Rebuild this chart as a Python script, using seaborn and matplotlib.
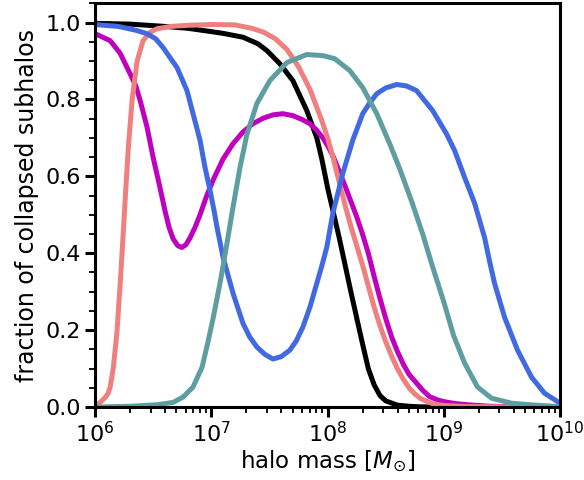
import numpy as np
import pandas as pd
import matplotlib
matplotlib.use("Agg")
import matplotlib.pyplot as plt
import seaborn as sns
from matplotlib.ticker import AutoMinorLocator, LogLocator

# ---- data (log10 halo mass, fraction) ----
black_logm = [6.0, 6.3, 6.6, 6.8, 6.988, 7.1, 7.271, 7.4, 7.478, 7.589, 7.701, 7.821, 7.907,
              7.95, 8.0, 8.05, 8.1, 8.15, 8.2, 8.25, 8.3, 8.35, 8.4, 8.45, 8.5, 8.6, 8.7,
              8.8, 9.0, 10.0]
black_frac = [0.998, 0.996, 0.99, 0.985, 0.977, 0.972, 0.962, 0.945, 0.927, 0.893, 0.849,
              0.771, 0.70, 0.645, 0.57, 0.505, 0.44, 0.37, 0.30, 0.232, 0.165, 0.10, 0.058,
              0.03, 0.016, 0.005, 0.002, 0.0005, 0.0, 0.0]

salmon_logm = [6.0, 6.043, 6.086, 6.11, 6.129, 6.155, 6.186, 6.215, 6.241, 6.258, 6.284,
               6.318, 6.361, 6.412, 6.473, 6.533, 6.65, 6.8, 7.0, 7.2, 7.35, 7.45, 7.55,
               7.65, 7.75, 7.85, 7.95, 8.0, 8.05, 8.1, 8.15, 8.2, 8.25, 8.3, 8.35, 8.4,
               8.45, 8.5, 8.55, 8.6, 8.65, 8.7, 8.75, 8.8, 8.9, 9.0, 9.2, 10.0]
salmon_frac = [0.004, 0.012, 0.025, 0.035, 0.052, 0.10, 0.19, 0.32, 0.45, 0.54, 0.67, 0.80,
               0.90, 0.953, 0.975, 0.984, 0.99, 0.993, 0.995, 0.994, 0.985, 0.975, 0.958,
               0.93, 0.885, 0.825, 0.745, 0.70, 0.645, 0.585, 0.525, 0.47, 0.42, 0.37,
               0.315, 0.26, 0.212, 0.17, 0.133, 0.10, 0.073, 0.05, 0.034, 0.022, 0.009,
               0.004, 0.001, 0.0]

magenta_logm = [6.0, 6.129, 6.215, 6.30, 6.35, 6.387, 6.447, 6.498, 6.558, 6.601, 6.635,
                6.67, 6.71, 6.745, 6.78, 6.816, 6.86, 6.902, 6.96, 7.014, 7.1, 7.186, 7.27,
                7.357, 7.45, 7.53, 7.615, 7.7, 7.78, 7.847, 7.9, 7.959, 8.0, 8.05, 8.1,
                8.15, 8.2, 8.25, 8.3, 8.35, 8.4, 8.45, 8.5, 8.55, 8.6, 8.65, 8.7, 8.766,
                8.82, 8.878, 8.95, 9.02, 9.1, 9.2, 9.3, 9.4, 9.6, 10.0]
magenta_frac = [0.971, 0.953, 0.92, 0.867, 0.835, 0.797, 0.727, 0.65, 0.57, 0.51, 0.468,
                0.438, 0.42, 0.415, 0.422, 0.44, 0.468, 0.50, 0.55, 0.59, 0.645, 0.685,
                0.715, 0.737, 0.752, 0.76, 0.763, 0.758, 0.748, 0.737, 0.722, 0.70, 0.68,
                0.65, 0.613, 0.575, 0.535, 0.495, 0.45, 0.40, 0.34, 0.283, 0.23, 0.183,
                0.145, 0.112, 0.085, 0.062, 0.043, 0.027, 0.018, 0.013, 0.009, 0.006,
                0.004, 0.002, 0.001, 0.0]

blue_logm = [6.0, 6.2, 6.35, 6.447, 6.52, 6.584, 6.704, 6.79, 6.842, 6.902, 6.945, 6.988,
             7.022, 7.048, 7.10, 7.186, 7.271, 7.33, 7.392, 7.46, 7.529, 7.6, 7.675, 7.73,
             7.787, 7.85, 7.907, 7.95, 7.993, 8.045, 8.131, 8.216, 8.302, 8.36, 8.423,
             8.5, 8.595, 8.68, 8.766, 8.904, 9.024, 9.093, 9.179, 9.265, 9.351, 9.393,
             9.436, 9.522, 9.634, 9.754, 9.866, 10.0]
blue_frac = [0.995, 0.99, 0.98, 0.971, 0.958, 0.935, 0.883, 0.823, 0.763, 0.694, 0.623,
             0.564, 0.512, 0.468, 0.39, 0.296, 0.218, 0.182, 0.156, 0.137, 0.125, 0.131,
             0.148, 0.172, 0.208, 0.262, 0.322, 0.367, 0.416, 0.504, 0.608, 0.694, 0.763,
             0.79, 0.815, 0.83, 0.839, 0.835, 0.823, 0.771, 0.71, 0.667, 0.597, 0.53,
             0.44, 0.38, 0.322, 0.234, 0.148, 0.078, 0.036, 0.01]

teal_logm = [6.0, 6.3, 6.533, 6.67, 6.756, 6.842, 6.92, 6.971, 7.014, 7.074, 7.134, 7.186,
             7.246, 7.306, 7.392, 7.503, 7.649, 7.821, 7.959, 8.062, 8.191, 8.302, 8.423,
             8.534, 8.620, 8.723, 8.818, 8.904, 8.998, 9.084, 9.179, 9.290, 9.411, 9.582,
             9.780, 10.0]
teal_frac = [0.0, 0.002, 0.006, 0.012, 0.026, 0.052, 0.104, 0.17, 0.23, 0.322, 0.426, 0.52,
             0.623, 0.71, 0.79, 0.849, 0.896, 0.917, 0.914, 0.906, 0.875, 0.831, 0.763,
             0.685, 0.62, 0.535, 0.45, 0.364, 0.275, 0.186, 0.114, 0.052, 0.023, 0.01,
             0.005, 0.001]

series = [
    (black_logm, black_frac, "#000000"),
    (magenta_logm, magenta_frac, "#BF00BF"),
    (salmon_logm, salmon_frac, "#F08080"),
    (blue_logm, blue_frac, "#4169E1"),
    (teal_logm, teal_frac, "#5F9EA0"),
]

sns.set_theme(style="white")
plt.rcParams["font.family"] = ["DejaVu Sans"]
plt.rcParams["mathtext.fontset"] = "dejavusans"

fig, ax = plt.subplots(figsize=(5.84, 4.8), dpi=100)
fig.subplots_adjust(left=0.163, right=0.959, bottom=0.152, top=0.993)

for logm, frac, col in series:
    df = pd.DataFrame({"mass": 10.0 ** np.array(logm), "frac": frac})
    sns.lineplot(data=df, x="mass", y="frac", color=col, lw=3.6, ax=ax, sort=True)

ax.set_xscale("log")
ax.set_xlim(1e6, 1e10)
ax.set_ylim(0, 1.05)
ax.set_yticks([0.0, 0.2, 0.4, 0.6, 0.8, 1.0])
ax.yaxis.set_minor_locator(AutoMinorLocator(4))
ax.xaxis.set_major_locator(LogLocator(base=10, numticks=10))
ax.xaxis.set_minor_locator(LogLocator(base=10, subs=np.arange(2, 10), numticks=20))

for s in ax.spines.values():
    s.set_linewidth(2.2)
    s.set_color("black")

ax.tick_params(axis="both", which="major", direction="out", length=7, width=2.2,
               labelsize=16, color="black", labelcolor="black", bottom=True, left=True,
               top=False, right=False, pad=3)
ax.tick_params(axis="both", which="minor", direction="out", length=4, width=1.3,
               color="black", bottom=True, left=True, top=False, right=False)

ax.set_xlabel(r"halo mass [$M_{\odot}$]", fontsize=16.5, color="black", labelpad=2)
ax.set_ylabel("fraction of collapsed subhalos", fontsize=17, color="black", labelpad=5)

fig.savefig("out.png", dpi=100)
